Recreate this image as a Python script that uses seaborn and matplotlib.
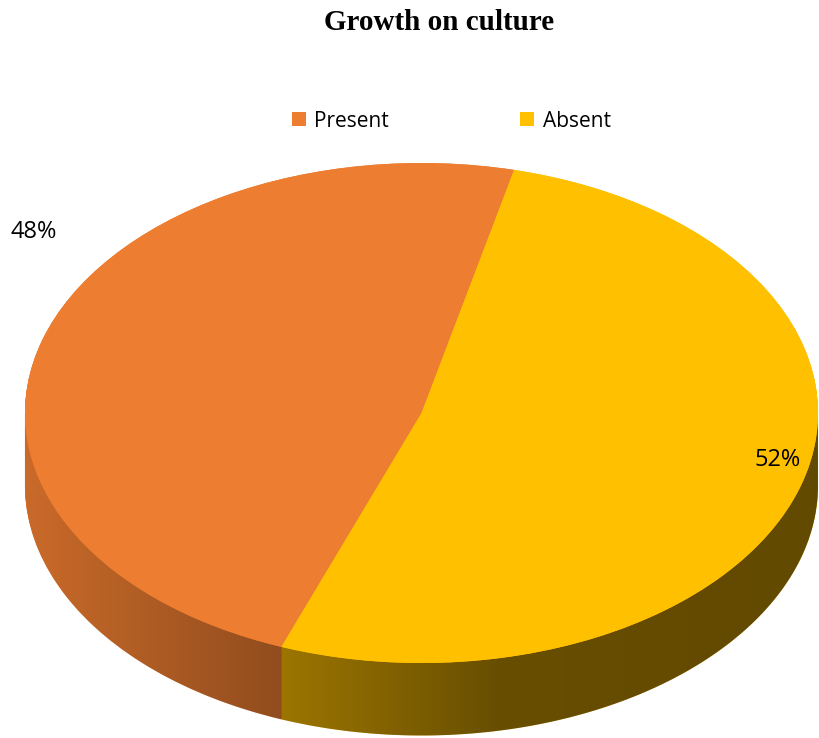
import numpy as np
import matplotlib
matplotlib.use("Agg")
import matplotlib.pyplot as plt
import seaborn as sns
from matplotlib.patches import Polygon

# ---- data ----
title = "Growth on culture"
categories = ["Present", "Absent"]
values = [48, 52]
colors = ["#ED7D31", "#FFC000"]

sns.set_theme(style="white")
plt.rcParams['font.family'] = ['Open Sans', 'DejaVu Sans']
plt.rcParams['text.color'] = 'black'

fig = plt.figure(figsize=(8.19, 7.38), dpi=100)
ax = fig.add_axes([0, 0, 1, 1])

depth = 0.29
start = 76.5

# side of the 3D pie: stacked layers
for off in np.linspace(depth, 0.0, 90):
    ax.pie(values, colors=colors, startangle=start, center=(0, -off),
           wedgeprops=dict(linewidth=0, zorder=1))

# shading overlay on the side
t = np.linspace(np.pi, 2 * np.pi, 400)
bottom = np.column_stack([np.cos(t), np.sin(t) - depth])
top = np.column_stack([np.cos(t[::-1]), np.sin(t[::-1])])
side = Polygon(np.vstack([bottom, top]), closed=True, facecolor='none',
               edgecolor='none')
ax.add_patch(side)
xs = np.linspace(-1.07, 1.01, 600)
bright = np.interp(xs, [-1, -0.38, 0.2, 1], [0.85, 0.62, 0.40, 0.38])
rgba = np.zeros((2, xs.size, 4))
rgba[..., 3] = 1 - bright
im = ax.imshow(rgba, extent=(xs[0], xs[-1], -1.5, 1.0), aspect='auto',
               zorder=3, interpolation='bilinear')
im.set_clip_path(side)

# top face
wedges, texts, autotexts = ax.pie(
    values, colors=colors, startangle=start, autopct='%1.0f%%',
    wedgeprops=dict(linewidth=0, zorder=5),
    textprops=dict(fontsize=17, color='black'))
label_pos = [(-0.977, 0.724), (0.897, -0.188)]
for txt, pos in zip(autotexts, label_pos):
    txt.set_position(pos)
    txt.set_zorder(10)

ax.set_aspect('auto')
ax.set_xlim(-1.063, 1.0025)
ax.set_ylim(-1.3, 1.652)
ax.axis('off')

leg = ax.legend(wedges, categories, loc='center', bbox_to_anchor=(0.551, 0.836),
                bbox_transform=fig.transFigure, ncol=2, frameon=False, fontsize=15,
                handlelength=0.67, handleheight=0.67, handletextpad=0.4,
                columnspacing=6.3)
for txt in leg.get_texts():
    txt.set_color('black')

fig.text(0.536, 0.969, title, ha='center', va='center', fontsize=21,
         fontweight='bold', color='black',
         family=['Liberation Serif', 'DejaVu Serif'])

fig.savefig("out.png", dpi=100)
